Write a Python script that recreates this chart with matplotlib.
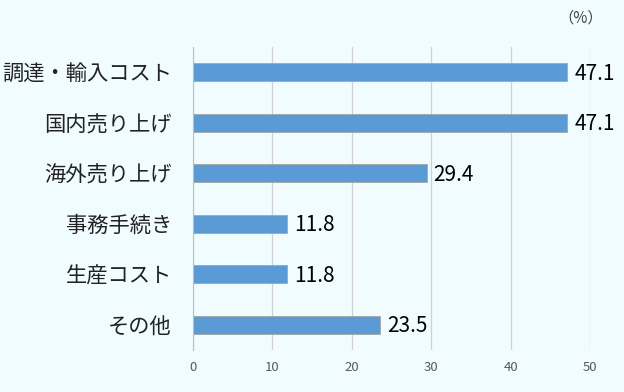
import matplotlib
matplotlib.use("Agg")
import matplotlib.pyplot as plt

plt.rcParams['font.family'] = ['Noto Sans CJK JP', 'DejaVu Sans']

categories = ['調達・輸入コスト', '国内売り上げ', '海外売り上げ', '事務手続き', '生産コスト', 'その他']
values = [47.1, 47.1, 29.4, 11.8, 11.8, 23.5]
xticks = [0, 10, 20, 30, 40, 50]

bg = '#F0FCFF'
fig = plt.figure(figsize=(6.24, 3.92), dpi=100, facecolor=bg)
ax = fig.add_axes([0.309, 0.107, 0.637, 0.773], facecolor=bg)

ypos = list(range(len(categories)))
ax.barh(ypos, values, height=0.36, color='#5B9BD5', edgecolor='#A6A6A6',
        linewidth=0.6, zorder=3)
for y, v in zip(ypos, values):
    ax.text(v + 0.9, y + 0.03, f'{v:.1f}', va='center', ha='left', fontsize=15,
            color='black', zorder=4)

ax.set_ylim(len(categories) - 0.5, -0.5)
ax.set_xlim(0, 50)
ax.set_xticks(xticks)
ax.set_yticks(ypos)
ax.set_yticklabels(categories, fontsize=15.3, color='#222222')
ax.tick_params(axis='x', length=0, labelsize=9.5, colors='#595959', pad=8)
ax.tick_params(axis='y', length=0, pad=15)
ax.grid(axis='x', color='#D0D0D0', linewidth=0.9, zorder=0)
for s in ['top', 'right', 'bottom']:
    ax.spines[s].set_visible(False)
ax.spines['left'].set_color('#BFBFBF')
ax.spines['left'].set_zorder(5)

fig.text(0.93, 0.953, '（%）', ha='center', va='center', fontsize=11, color='#404040')

fig.savefig('out.png', dpi=100, facecolor=bg)
